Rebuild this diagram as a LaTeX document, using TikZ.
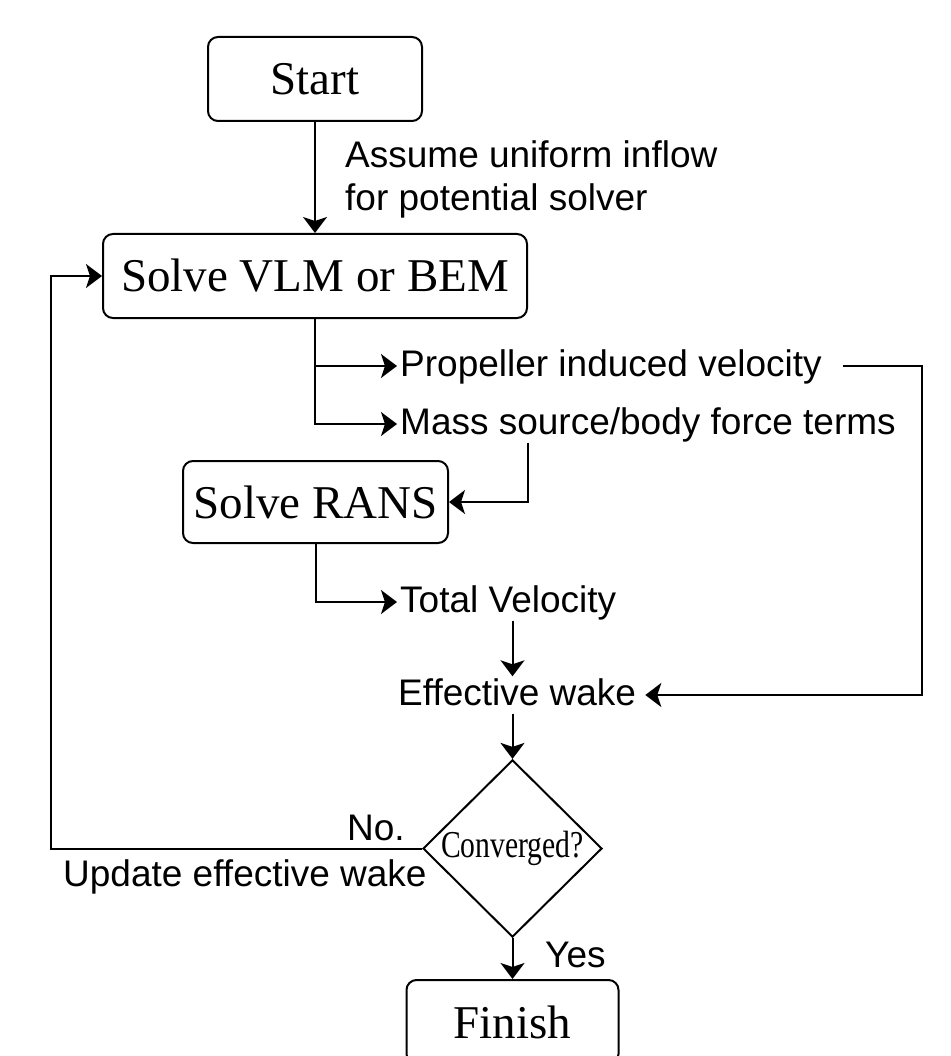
\documentclass[tikz,border=0pt]{standalone}
\usepackage{fontspec}
\setmainfont{Liberation Serif}
\newfontfamily\labelfont{Liberation Sans}
\usetikzlibrary{shapes.geometric,arrows.meta}

\begin{document}
\begin{tikzpicture}[x=1pt,y=-1pt,
  box/.style={draw, line width=2pt, rounded corners=10pt, inner sep=0pt,
    font=\fontsize{47}{54}\selectfont},
  lbl/.style={inner xsep=3pt, inner ysep=2pt,
    font=\labelfont\fontsize{37}{43}\selectfont, text height=27pt, text depth=6pt},
  note/.style={inner sep=0pt, font=\labelfont\fontsize{37}{43}\selectfont},
  conn/.style={line width=2pt, -{Stealth[length=16pt,width=24pt,inset=4pt]}},
  wire/.style={line width=2pt}
]
\clip (0,0) rectangle (950,1056);
\useasboundingbox (0,0) rectangle (950,1056);

% process boxes
\node[box, minimum width=214pt, minimum height=84pt] (start) at (315,79) {Start};
\node[box, minimum width=424pt, minimum height=84pt] (vlm) at (315,276) {Solve VLM or BEM};
\node[box, minimum width=265pt, minimum height=82pt] (rans) at (315.5,502) {Solve RANS};
\node[box, minimum width=212pt, minimum height=84pt] (finish) at (512.5,1022) {Finish};

% decision
\node[draw, diamond, line width=2pt, minimum width=179pt, minimum height=173pt,
  inner sep=0pt, aspect=1, font=\fontsize{38}{42}\selectfont]
  (conv) at (512.5,848.5) {\scalebox{0.78}[1]{Converged?}};

% quantities passed between the solvers
\node[lbl, anchor=west] (piv) at (397,366) {Propeller induced velocity};
\node[lbl, anchor=west] (mst) at (397,424) {Mass source/body force terms};
\node[lbl, anchor=west] (tv) at (397,602) {Total Velocity};
\node[lbl, anchor=west] (ew) at (395,695) {Effective wake};

% edge annotations
\node[note, anchor=north west, align=left] (assume) at (345,140)
  {Assume uniform inflow\\for potential solver};
\node[note, anchor=base west] (no) at (347,840) {No.};
\node[note, anchor=base west] (upd) at (63,886) {Update effective wake};
\node[note, anchor=base west] (yes) at (545,967) {Yes};

% routing columns and offset end points
\coordinate (fb) at (51,0);
\coordinate (rl) at (922,0);
\coordinate (pivout) at ([xshift=18pt]piv.east);
\coordinate (ewin) at ([xshift=6pt]ew.east);

% connectors
\draw[conn] (start.south) -- (vlm.north);
\draw[conn] (vlm.south) |- (piv.west);
\draw[conn] (vlm.south) |- (mst.west);
\draw[conn] (mst.south -| vlm.east) |- (rans.east);
\draw[conn] (rans.south) |- (tv.west);
\draw[conn] (pivout) -- (pivout -| rl) |- (ewin);
\draw[conn] (tv.south -| conv.north) -- (ew.north -| conv.north);
\draw[conn] (ew.south -| conv.north) -- (conv.north);
\draw[conn] (conv.west) -- (conv.west -| fb) |- (vlm.west);
\draw[conn] (conv.south) -- (finish.north);
\end{tikzpicture}
\end{document}
